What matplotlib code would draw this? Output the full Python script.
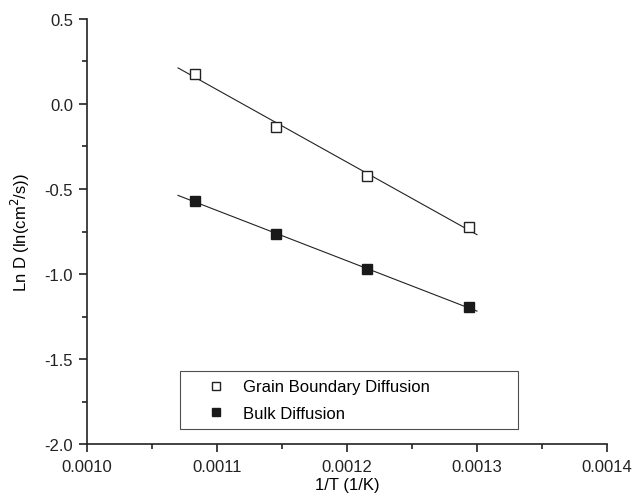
import numpy as np
import matplotlib
matplotlib.use('Agg')
from matplotlib import pyplot as plt
from matplotlib.ticker import MultipleLocator

plt.rcParams['font.family'] = ['Liberation Sans', 'DejaVu Sans']

# data
inv_T = [0.0010834, 0.0011455, 0.0012151, 0.0012937]
grain_lnD = [0.178, -0.133, -0.424, -0.724]
bulk_lnD = [-0.572, -0.767, -0.970, -1.196]
fit_range = [0.00107, 0.00130]

fig = plt.figure(figsize=(6.32, 5.02), dpi=100)
ax = fig.add_axes([0.1377, 0.1135, 0.8227, 0.8467])

xf = np.array(fit_range)
for y in (grain_lnD, bulk_lnD):
    k, b = np.polyfit(inv_T, y, 1)
    ax.plot(xf, k * xf + b, color='#222222', lw=0.8, zorder=1)

ax.plot(inv_T, grain_lnD, 's', ms=6.5, mfc='white', mec='#222222', mew=1.0,
        label='Grain Boundary Diffusion', zorder=2)
ax.plot(inv_T, bulk_lnD, 's', ms=6.5, mfc='#1a1a1a', mec='#1a1a1a', mew=1.0,
        label='Bulk Diffusion', zorder=2)

ax.set_xlim(0.0010, 0.0014)
ax.set_ylim(-2.0, 0.5)
ax.xaxis.set_major_locator(MultipleLocator(0.0001))
ax.xaxis.set_minor_locator(MultipleLocator(0.00005))
ax.yaxis.set_major_locator(MultipleLocator(0.5))
ax.yaxis.set_minor_locator(MultipleLocator(0.25))
ax.xaxis.set_major_formatter(plt.FuncFormatter(lambda v, p: '%.4f' % v))
ax.yaxis.set_major_formatter(plt.FuncFormatter(lambda v, p: '%.1f' % v))

for s in ['top', 'right']:
    ax.spines[s].set_visible(False)
for s in ['left', 'bottom']:
    ax.spines[s].set_linewidth(1.2)
    ax.spines[s].set_color('#222222')
ax.tick_params(which='major', direction='out', length=6, width=1.2, labelsize=12,
               colors='#222222', pad=4)
ax.tick_params(axis='x', which='major', pad=5)
ax.tick_params(which='minor', direction='out', length=3.5, width=1.2, colors='#222222')

ax.set_xlabel('1/T (1/K)', fontsize=12, labelpad=2)
ax.set_ylabel('Ln D (ln(cm$^2$/s))', fontsize=12, labelpad=9)

leg = ax.legend(loc='lower left', bbox_to_anchor=(0.179, 0.0355, 0.65, 0.145), mode='expand',
                frameon=True, fancybox=False, fontsize=12, handlelength=3.3,
                handletextpad=0.0, borderpad=0.49, labelspacing=0.68,
                borderaxespad=0, markerscale=0.85)
leg.get_frame().set_edgecolor('#222222')
leg.get_frame().set_linewidth(0.8)

fig.savefig('out.png', dpi=100)
